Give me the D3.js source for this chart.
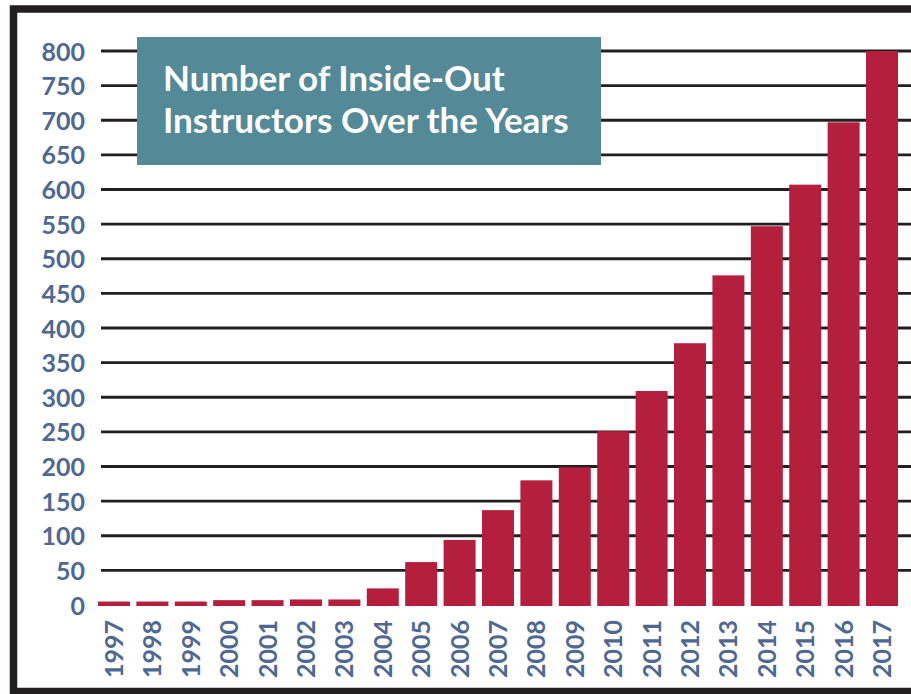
<!DOCTYPE html>
<html>
<head>
<meta charset="utf-8">
<script src="https://cdn.jsdelivr.net/npm/d3@7"></script>
<style>
  html, body { margin: 0; padding: 0; background: #fff; }
  svg { display: block; }
</style>
</head>
<body>
<svg id="chart" width="911" height="694"></svg>
<script>
const years = ["1997","1998","1999","2000","2001","2002","2003","2004","2005","2006","2007","2008","2009","2010","2011","2012","2013","2014","2015","2016","2017"];
const instructors = [5, 5, 5, 7, 7, 8, 8, 24, 62, 94, 137, 180, 199, 251, 309, 378, 476, 547, 607, 697, 800];
const yTicks = [0, 50, 100, 150, 200, 250, 300, 350, 400, 450, 500, 550, 600, 650, 700, 750, 800];
const titleLines = ["Number of Inside-Out", "Instructors Over the Years"];

const svg = d3.select("#chart");
const W = 911, H = 694;
const font = "Lato, 'Open Sans', sans-serif";
const labelColor = "#4f6892";
const barColor = "#b31f3c";
const lineColor = "#231f20";

// frame
svg.append("rect").attr("x", 13.5).attr("y", 9).attr("width", 920).attr("height", 682.5)
  .attr("fill", "none").attr("stroke", lineColor).attr("stroke-width", 7.5);

const x = d3.scaleBand().domain(years).range([94.8, 901.2]).paddingInner(0.167).paddingOuter(0.083);
const y = d3.scaleLinear().domain([0, 800]).range([605, 51]);

// gridlines
svg.append("g").selectAll("line").data(yTicks.filter(d => d > 0)).join("line")
  .attr("x1", 101).attr("x2", W + 5)
  .attr("y1", d => y(d)).attr("y2", d => y(d))
  .attr("stroke", lineColor).attr("stroke-width", 2.8);

// y axis labels
const yAxis = d3.axisLeft(y).tickValues(yTicks).tickSize(0).tickPadding(0);
const gy = svg.append("g").attr("transform", "translate(85,0)").call(yAxis);
gy.select(".domain").remove();
gy.selectAll("text").attr("font-family", font).attr("font-weight", 700)
  .attr("font-size", 25).attr("fill", labelColor).attr("dy", "0.36em");

// bars
svg.append("g").selectAll("rect").data(instructors).join("rect")
  .attr("x", (d, i) => x(years[i]))
  .attr("width", x.bandwidth())
  .attr("y", d => y(d))
  .attr("height", d => y(0) - y(d) + 1)
  .attr("fill", barColor);

// x labels
const xAxis = d3.axisBottom(x).tickSize(0).tickPadding(0);
const gx = svg.append("g").attr("transform", "translate(0,620)").call(xAxis);
gx.select(".domain").remove();
gx.selectAll("text")
  .attr("font-family", font).attr("font-weight", 700).attr("font-size", 25)
  .attr("fill", labelColor)
  .attr("text-anchor", "end")
  .attr("dy", "0.36em").attr("y", 0).attr("x", 0)
  .attr("transform", "rotate(-90)");

// title box
svg.append("rect").attr("x", 137).attr("y", 37).attr("width", 464).attr("height", 128)
  .attr("fill", "#548a97");
const tt = svg.append("g");
const t1 = tt.append("text").attr("x", 163).attr("y", 91).text(titleLines[0]);
const t2 = tt.append("text").attr("x", 163).attr("y", 133).text(titleLines[1]);
tt.selectAll("text").attr("font-family", font).attr("font-weight", 700)
  .attr("font-size", 30).attr("fill", "#fff");
const w = t2.node().getComputedTextLength();
const fs = 30 * 406 / w;
tt.selectAll("text").attr("font-size", fs);
</script>
</body>
</html>
